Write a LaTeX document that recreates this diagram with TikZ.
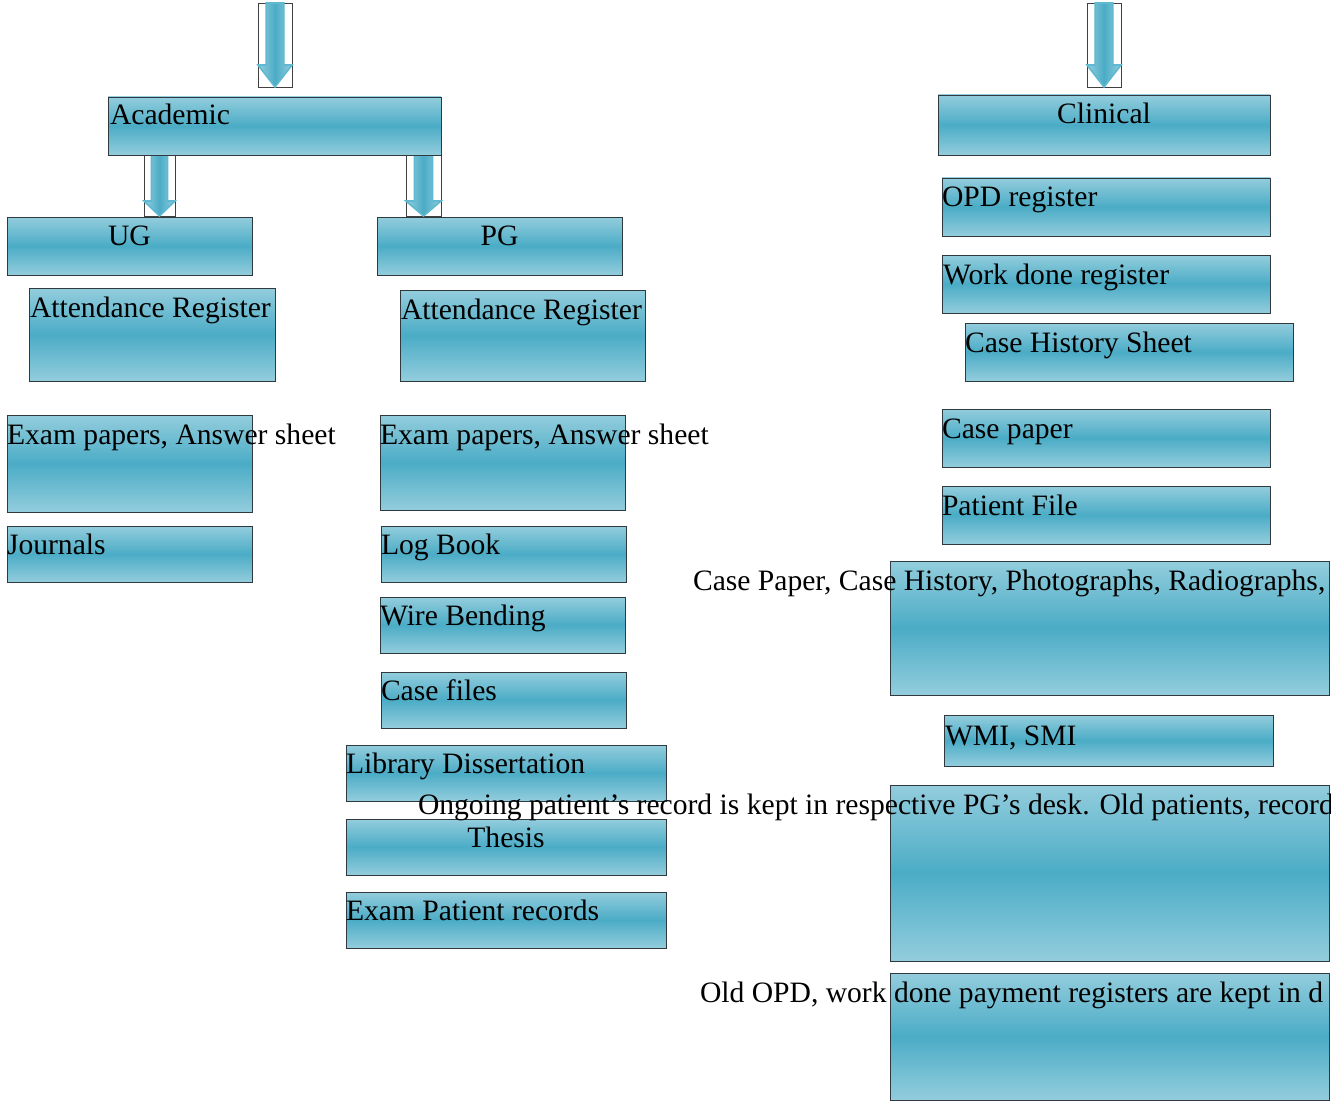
\documentclass[tikz,border=0pt]{standalone}
\usepackage{fontspec}
\setmainfont{Liberation Serif}
\usetikzlibrary{calc}

\definecolor{aqualight}{HTML}{93CDDD}
\definecolor{aquadark}{HTML}{4BACC6}
\definecolor{aquaedge}{HTML}{5FB9D1}
\definecolor{boxline}{HTML}{303A3E}

\tikzset{
  cellbox/.style={rectangle, draw=boxline, line width=0.9pt, inner sep=0pt, outer sep=0pt,
    top color=aqualight, bottom color=aqualight, middle color=aquadark},
  lbl/.style={inner sep=0pt, outer sep=0pt, text=black, font=\fontsize{29.6}{34}\selectfont},
  arrowframe/.style={rectangle, draw=black!75, line width=0.6pt, inner sep=0pt, outer sep=0pt},
  arrowbody/.style={draw=aquaedge, line width=1.6pt, line join=miter,
    left color=aqualight, right color=aqualight, middle color=aquadark},
}

% a shaded box given by its corners: name, x1, y1, x2, y2
\newcommand\cell[5]{\node[cellbox, anchor=north west,
  minimum width={(#4-#2)*1pt}, minimum height={(#5-#3)*1pt}] (#1) at (#2,#3) {};}
% an empty frame that holds a block arrow
\newcommand\arrowcell[5]{\node[arrowframe, anchor=north west,
  minimum width={(#4-#2)*1pt}, minimum height={(#5-#3)*1pt}] (#1) at (#2,#3) {};}
% block arrow pointing down inside a frame: frame name, head length (pt)
\newcommand\blockdown[2]{%
  \path[arrowbody] let \p1=(#1.north west), \p2=(#1.south east), \n1={\x2-\x1} in
    ({\x1+0.24*\n1},\y1) -- ({\x2-0.24*\n1},\y1) -- ({\x2-0.24*\n1},{\y2+#2pt})
    -- (\x2,{\y2+#2pt}) -- ({(\x1+\x2)/2},\y2) -- (\x1,{\y2+#2pt})
    -- ({\x1+0.24*\n1},{\y2+#2pt}) -- cycle;}
% left-aligned and centred captions at the top of a box
\newcommand\capl[4][29]{\node[lbl, anchor=base west] (#2-t) at ($(#2.north west)+(#3,#1)$) {#4};}
\newcommand\capc[3][29]{\node[lbl, anchor=base] (#2-t) at ($(#2.north)+(0,#1)$) {#3};}

\begin{document}
\begin{tikzpicture}[x=1pt, y=-1pt]
\useasboundingbox[fill=white] (0,0) rectangle (1331,1105);

% arrows
\arrowcell{arrA}{258}{3}{292}{87}
\arrowcell{arrB}{1087}{3}{1121}{87}
\arrowcell{arrC}{144}{155}{175}{216}
\arrowcell{arrD}{406}{155}{441}{216}
\blockdown{arrA}{22}
\blockdown{arrB}{22}
\blockdown{arrC}{15}
\blockdown{arrD}{15}

% academic branch
\cell{academic}{108}{97}{441}{155}
\cell{ug}{7}{217}{252}{275}
\cell{pg}{377}{217}{622}{275}
\cell{ugatt}{29}{288}{275}{381}
\cell{pgatt}{400}{290}{645}{381}
\cell{ugexam}{7}{415}{252}{512}
\cell{journals}{7}{526}{252}{582}
\cell{pgexam}{380}{415}{625}{510}
\cell{logbook}{381}{526}{626}{582}
\cell{wire}{380}{597}{625}{653}
\cell{casefiles}{381}{672}{626}{728}
\cell{library}{346}{745}{666}{801}
\cell{thesis}{346}{819}{666}{875}
\cell{exampat}{346}{892}{666}{948}

% clinical branch
\cell{clinical}{938}{95}{1270}{155}
\cell{opd}{942}{178}{1270}{236}
\cell{workdone}{942}{255}{1270}{313}
\cell{chs}{965}{323}{1293}{381}
\cell{casepaper}{942}{409}{1270}{467}
\cell{patientfile}{942}{486}{1270}{544}
\cell{bigA}{890}{561}{1329}{695}
\cell{wmi}{944}{715}{1273}{766}
\cell{bigB}{890}{785}{1329}{961}
\cell{bigC}{890}{973}{1329}{1100}

% captions
\capl[28]{academic}{2}{Academic}
\capc[28]{ug}{UG}
\capc[28]{pg}{PG}
\capl{ugatt}{1}{Attendance Register}
\capl{pgatt}{1}{Attendance Register}
\capl{ugexam}{0}{Exam papers, Answer sheet}
\capl[28]{journals}{0}{Journals}
\capl{pgexam}{0}{Exam papers, Answer sheet}
\capl[28]{logbook}{0}{Log Book}
\capl[28]{wire}{0}{Wire Bending}
\capl[28]{casefiles}{0}{Case files}
\capl[28]{library}{0}{Library Dissertation}
\capc[28]{thesis}{Thesis}
\capl[28]{exampat}{0}{Exam Patient records}

\capc{clinical}{Clinical}
\capl{opd}{0}{OPD register}
\capl{workdone}{1}{Work done register}
\capl{chs}{0}{Case History Sheet}
\capl{casepaper}{0}{Case paper}
\capl{patientfile}{0}{Patient File}
\capl{bigA}{-197}{Case Paper, Case History, Photographs, Radiographs,}
\capl[30]{wmi}{1}{WMI, SMI}
\capl{bigB}{-472}{Ongoing patient’s record is kept in respective PG’s desk. Old patients, record}
\capl{bigC}{-190}{Old OPD, work done payment registers are kept in d}
\end{tikzpicture}
\end{document}
